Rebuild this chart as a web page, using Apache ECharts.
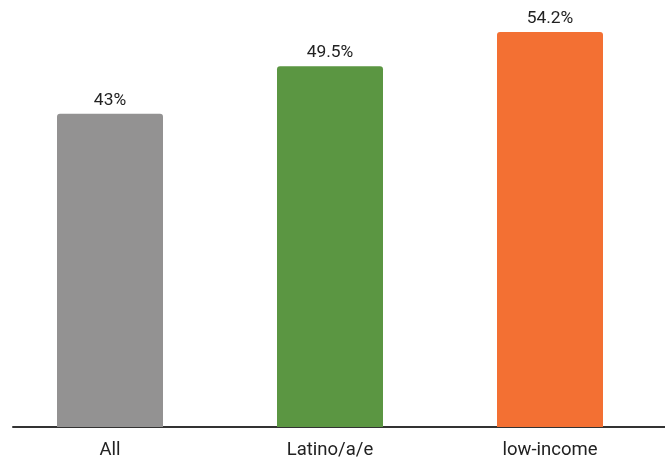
<!DOCTYPE html>
<html><head><meta charset="utf-8">
<script src="https://cdn.jsdelivr.net/npm/echarts@6/dist/echarts.min.js"></script>
<style>html,body{margin:0;padding:0;background:#fff}#c{width:665px;height:463px}</style>
</head><body><div id="c"></div>
<script>
const categories = ['All', 'Latino/a/e', 'low-income'];
const values = [43, 49.5, 54.2];
const colors = ['#939292', '#5b9642', '#f37033'];

const chart = echarts.init(document.getElementById('c'), null, {renderer: 'canvas'});
chart.setOption({
  animation: false,
  grid: [
    {left: -2, right: 5, top: 0, bottom: 36},
    {left: 13, right: 0, top: 0, bottom: 36}
  ],
  xAxis: [
    {type: 'category', gridIndex: 0, data: categories,
     axisLine: {show: false}, axisTick: {show: false},
     axisLabel: {fontFamily: 'Roboto', fontSize: 18.5, color: '#222', margin: 14}},
    {type: 'category', gridIndex: 1, data: [''],
     axisLine: {show: true, lineStyle: {color: '#333', width: 2}}, axisTick: {show: false},
     axisLabel: {show: false}}
  ],
  yAxis: [
    {type: 'value', gridIndex: 0, min: 0, max: 58.6, show: false, splitLine: {show: false}},
    {type: 'value', gridIndex: 1, min: 0, max: 1, show: false, splitLine: {show: false}}
  ],
  series: [{
    type: 'bar', xAxisIndex: 0, yAxisIndex: 0, barWidth: 106,
    data: values.map((v, i) => ({value: v, itemStyle: {color: colors[i]}})),
    itemStyle: {borderRadius: [3, 3, 0, 0]},
    label: {show: true, position: 'top', distance: 5, formatter: p => p.value + '%',
            fontFamily: 'Roboto', fontSize: 17.4, color: '#222'}
  }]
});
</script></body></html>
